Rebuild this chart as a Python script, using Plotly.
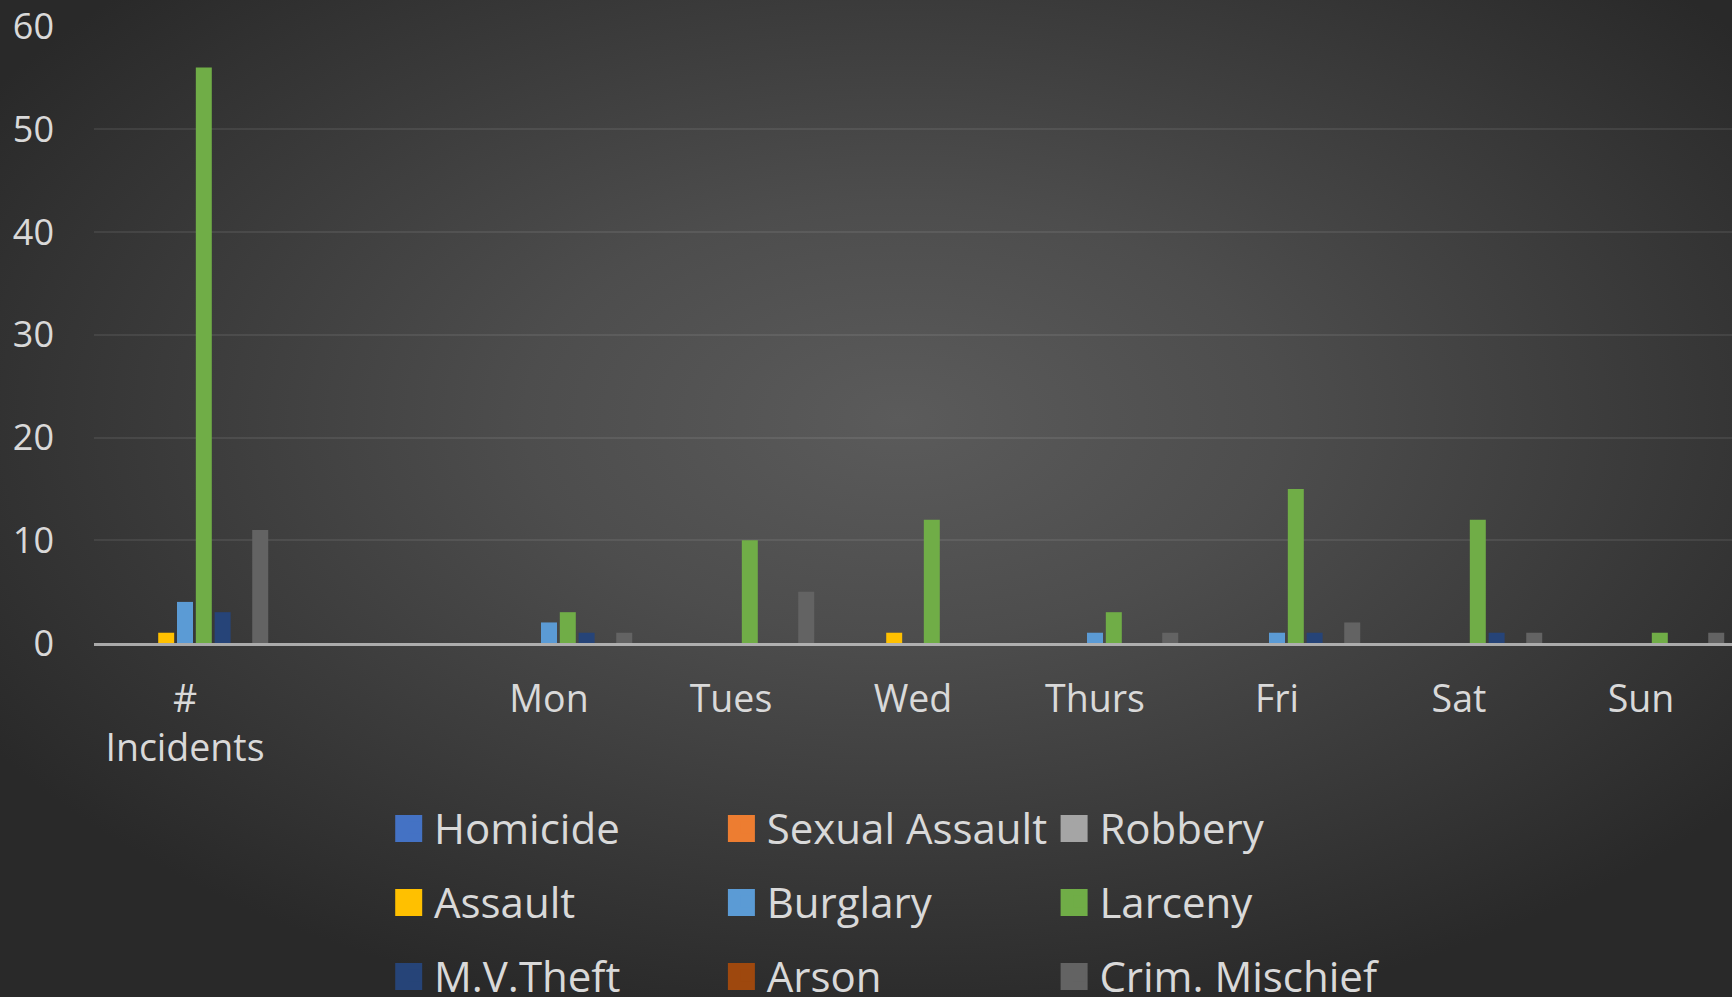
import base64
import plotly.graph_objects as go

# ---------------- data ----------------
categories = ["#<br>Incidents", " ", "Mon", "Tues", "Wed", "Thurs", "Fri", "Sat", "Sun"]

series_names = ["Homicide", "Sexual Assault", "Robbery",
                "Assault", "Burglary", "Larceny",
                "M.V.Theft", "Arson", "Crim. Mischief"]

homicide       = [0,  None, 0, 0,  0,  0, 0,  0,  0]
sexual_assault = [0,  None, 0, 0,  0,  0, 0,  0,  0]
robbery        = [0,  None, 0, 0,  0,  0, 0,  0,  0]
assault        = [1,  None, 0, 0,  1,  0, 0,  0,  0]
burglary       = [4,  None, 2, 0,  0,  1, 1,  0,  0]
larceny        = [56, None, 3, 10, 12, 3, 15, 12, 1]
mv_theft       = [3,  None, 1, 0,  0,  0, 1,  1,  0]
arson          = [0,  None, 0, 0,  0,  0, 0,  0,  0]
crim_mischief  = [11, None, 1, 5,  0,  1, 2,  1,  1]

series_values = [homicide, sexual_assault, robbery,
                 assault, burglary, larceny,
                 mv_theft, arson, crim_mischief]

colors = ["#4472C4", "#ED7D31", "#A5A5A5",
          "#FFC000", "#5B9BD5", "#70AD47",
          "#264478", "#9E480E", "#636363"]

legend_rows = ["legend", "legend", "legend",
               "legend2", "legend2", "legend2",
               "legend3", "legend3", "legend3"]

y_ticks = [0, 10, 20, 30, 40, 50, 60]

# ---------------- styling ----------------
TEXT = "#d9d9d9"
FONT = "Open Sans"
W, H = 1732, 997
ML, MR, MT, MB = 94, 0, 26, 354
PW, PH = W - ML - MR, H - MT - MB

fig = go.Figure()
for name, vals, col, lg in zip(series_names, series_values, colors, legend_rows):
    fig.add_trace(go.Bar(name=name, x=categories, y=vals, legend=lg,
                         marker=dict(color=col, line=dict(width=0))))

svg = (
    f'<svg xmlns="http://www.w3.org/2000/svg" width="{W}" height="{H}" '
    f'viewBox="0 0 {W} {H}" preserveAspectRatio="none">'
    '<defs><radialGradient id="g" cx="0.52" cy="0.42" r="0.62">'
    '<stop offset="0" stop-color="#5b5b5b"/>'
    '<stop offset="0.35" stop-color="#4d4d4d"/>'
    '<stop offset="1" stop-color="#292929"/>'
    '</radialGradient></defs>'
    f'<rect width="{W}" height="{H}" fill="url(#g)"/></svg>'
)
bg_src = "data:image/svg+xml;base64," + base64.b64encode(svg.encode()).decode()


def px_x(x):
    return (x - ML) / PW


def px_y(y):
    return (MT + PH - y) / PH


LEG_LEFT = 394
ROW_Y = [828, 902, 976]      # legend rows (text)
BOX_Y = [828.5, 902.5, 976.5]  # swatch centres
COL_STEP = 332.7


def legend_cfg(ypx):
    return dict(
        orientation="h", x=px_x(LEG_LEFT), xanchor="left",
        y=px_y(ypx), yanchor="middle",
        entrywidth=287.7, entrywidthmode="pixels",
        font=dict(family=FONT, size=42, color=TEXT),
        bgcolor="rgba(0,0,0,0)", traceorder="normal",
    )


# larger legend swatches (drawn behind plotly's own small swatch, same colour)
shapes = []
SW = 27
for k, col in enumerate(colors):
    r, c = divmod(k, 3)
    cx = 408.7 + c * COL_STEP
    cy = BOX_Y[r]
    shapes.append(dict(type="rect", xref="paper", yref="paper",
                       x0=px_x(cx - SW / 2), x1=px_x(cx + SW / 2),
                       y0=px_y(cy + SW / 2), y1=px_y(cy - SW / 2),
                       fillcolor=col, line=dict(width=0), layer="above"))

fig.update_layout(
    width=W, height=H,
    margin=dict(l=ML, r=MR, t=MT, b=MB, pad=0, autoexpand=False),
    paper_bgcolor="#2b2b2b", plot_bgcolor="rgba(0,0,0,0)",
    font=dict(family=FONT, color=TEXT),
    barmode="group", bargap=0.07, bargroupgap=0.15,
    images=[dict(source=bg_src, xref="paper", yref="paper",
                 x=-ML / PW, y=1 + MT / PH, sizex=W / PW, sizey=H / PH,
                 xanchor="left", yanchor="top", sizing="stretch", layer="below")],
    shapes=shapes,
    xaxis=dict(type="category", categoryorder="array", categoryarray=categories,
               range=[-0.5, len(categories) - 0.5], showgrid=False,
               showline=True, linecolor="rgba(210,210,210,0.75)", linewidth=2.5,
               ticks="", tickfont=dict(family=FONT, size=37.5, color=TEXT),
               ticklabelstandoff=21, zeroline=False),
    yaxis=dict(range=[0, 60.05], tickvals=y_ticks, showgrid=True,
               gridcolor="rgba(255,255,255,0.08)", gridwidth=2,
               zeroline=False, showline=False, ticks="",
               tickfont=dict(family=FONT, size=36, color=TEXT),
               ticklabelstandoff=39),
    legend=legend_cfg(ROW_Y[0]),
    legend2=legend_cfg(ROW_Y[1]),
    legend3=legend_cfg(ROW_Y[2]),
    showlegend=True,
)

fig.write_html("out.html", config={"displayModeBar": False},
               post_script="document.body.style.margin='0';document.body.style.overflow='hidden';")
